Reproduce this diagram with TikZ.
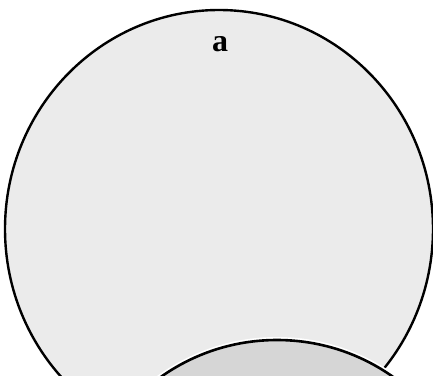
\documentclass[tikz,border=0pt]{standalone}
\usepackage{fontspec}
\setmainfont{Liberation Serif}
\usetikzlibrary{shapes.geometric}

\begin{document}
\begin{tikzpicture}[
	x=1pt, y=1pt,
	disc/.style={
		ellipse,
		draw=black,
		fill=black!8,
		line width=2.4pt,
		inner sep=0pt
	},
	inner disc/.style={
		circle,
		draw=black,
		fill=black!16,
		line width=2.6pt,
		inner sep=0pt,
		minimum size=402pt
	},
	label/.style={
		font=\bfseries\fontsize{32}{34}\selectfont,
		inner sep=0pt
	}
]

	\useasboundingbox (0,0) rectangle (433,375);
	\clip (0,0) rectangle (433,375);

	\node[disc, minimum width=428pt, minimum height=438pt] (outer) at (219,146) {};
	\draw[white, line width=6pt] (277,-166) circle (201pt);
	\node[inner disc] (inner) at (277,-166) {};
	\node[label] (a) at (220,331) {a};

\end{tikzpicture}
\end{document}
